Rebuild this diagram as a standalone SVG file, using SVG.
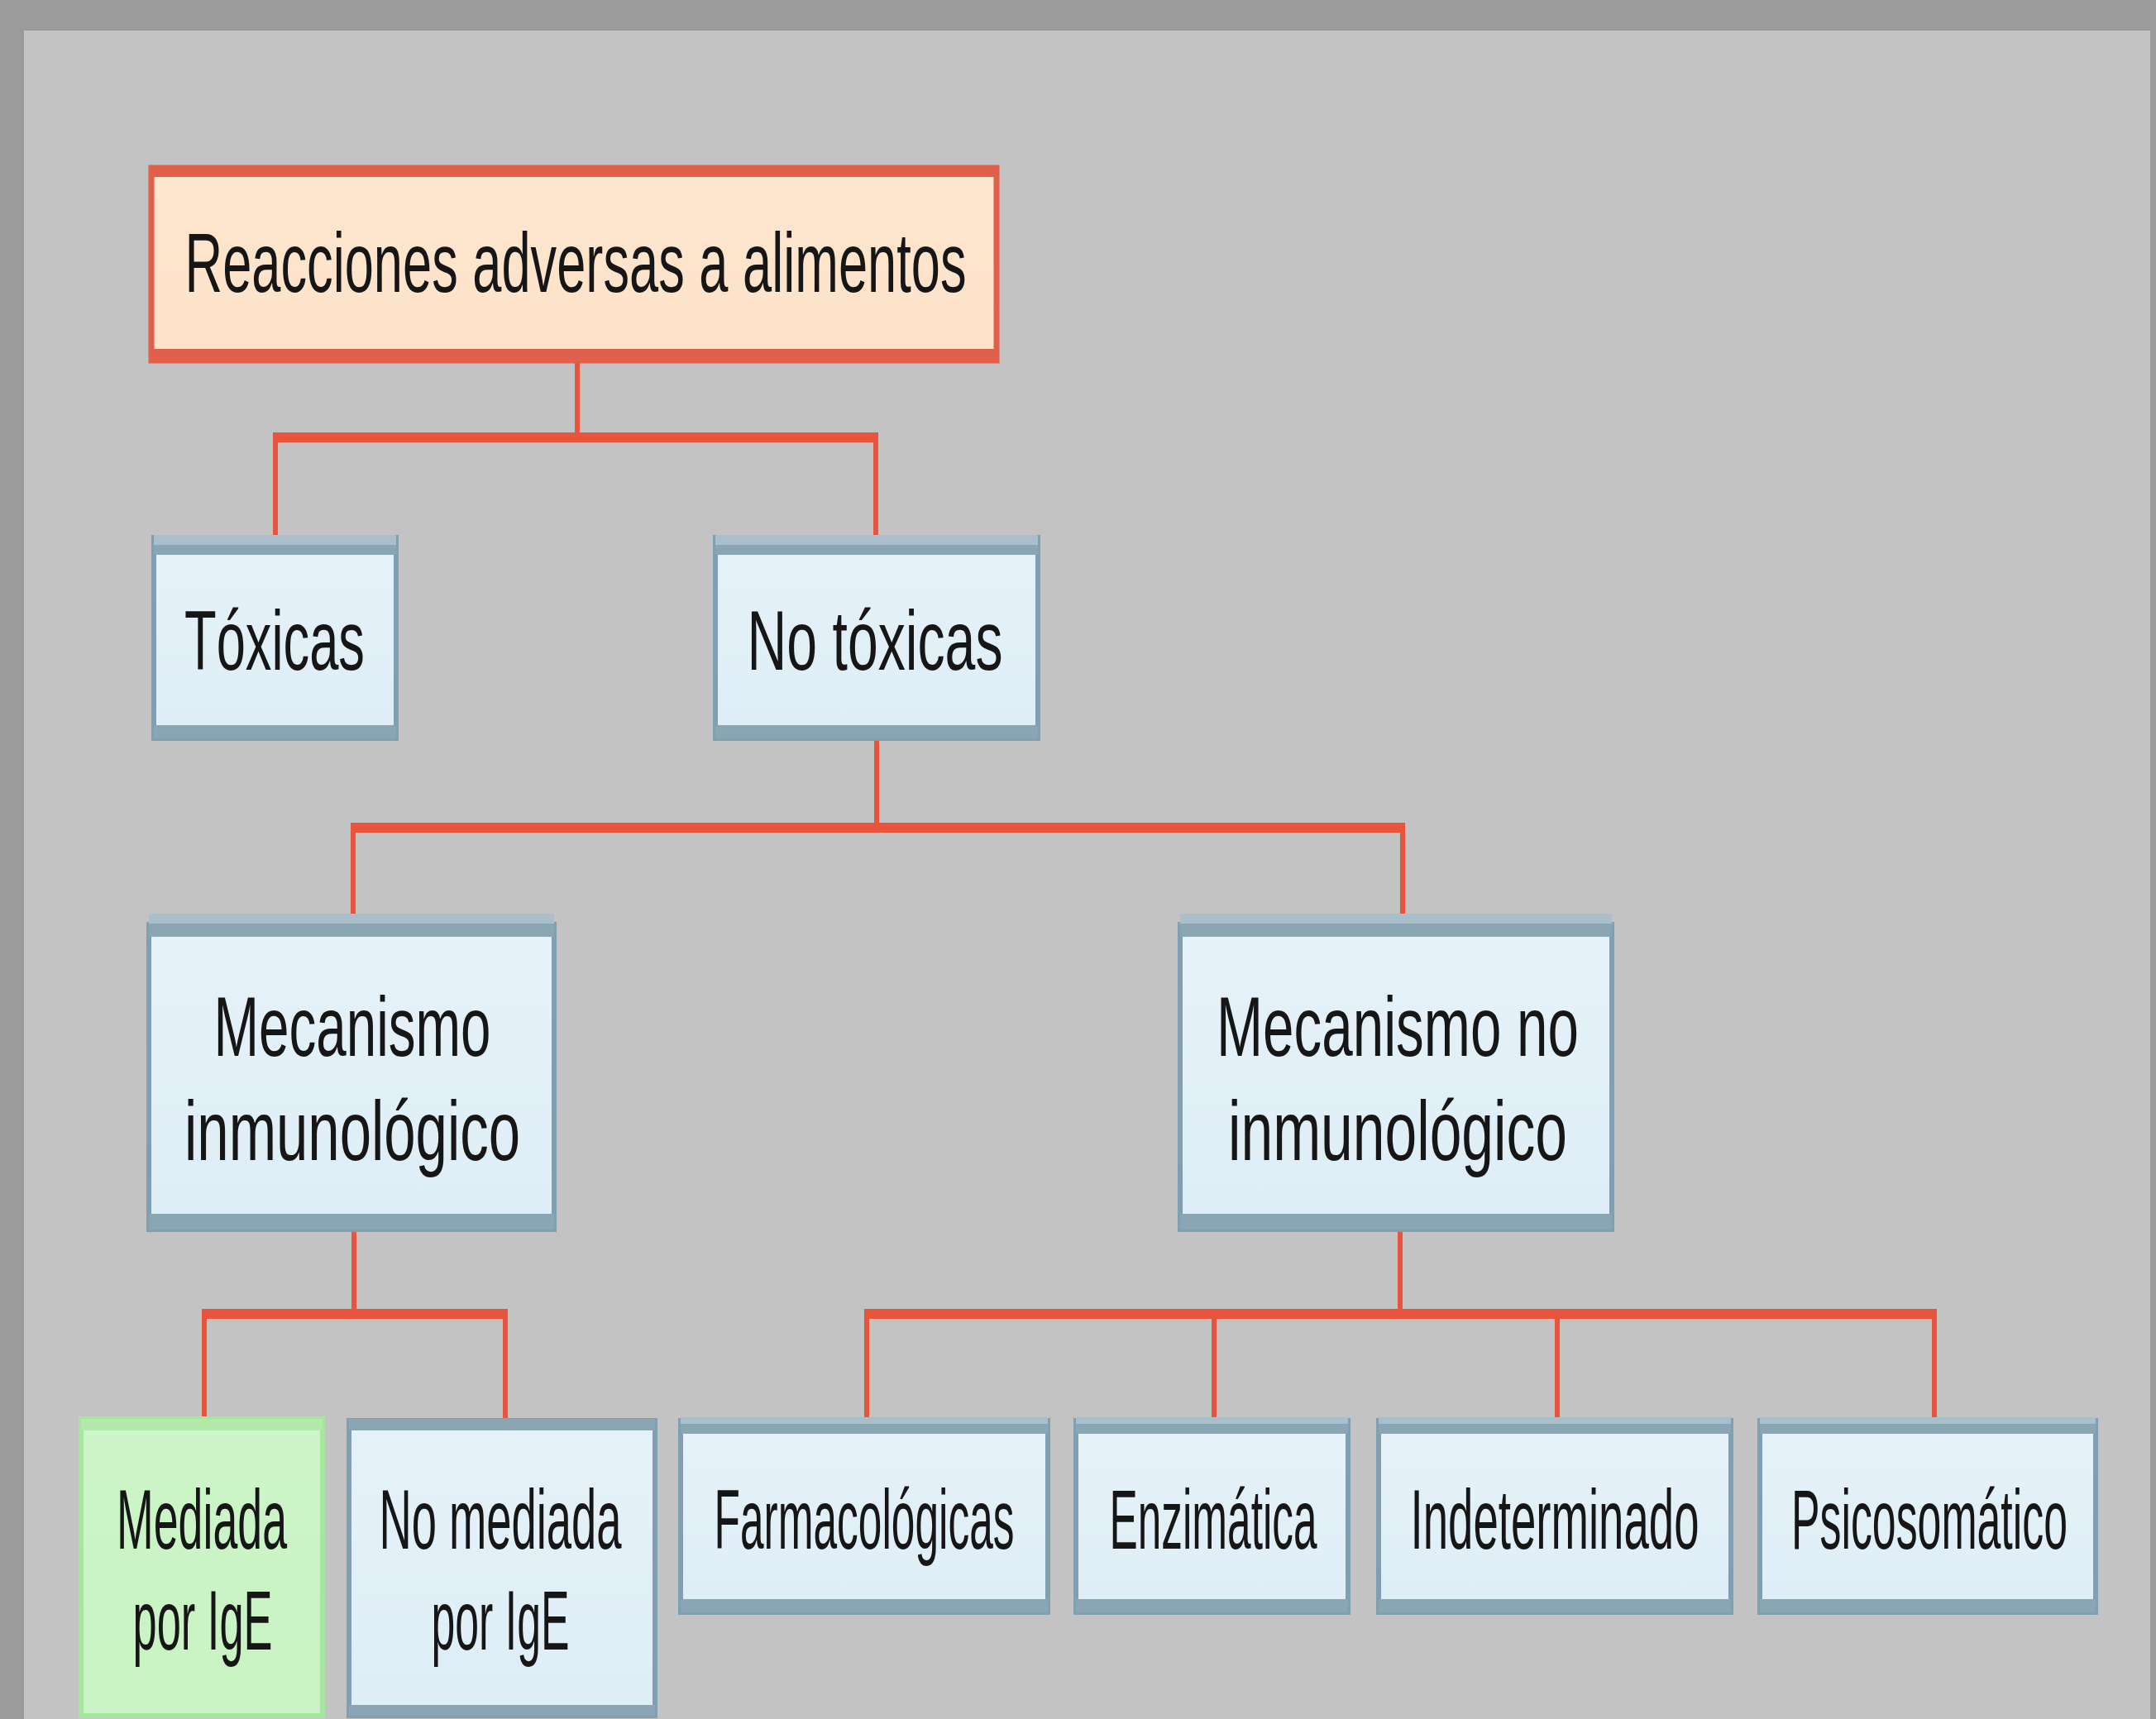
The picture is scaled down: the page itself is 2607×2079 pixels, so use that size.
<svg xmlns="http://www.w3.org/2000/svg" width="2607" height="2079" viewBox="0 0 2607 2079">
<defs>
<linearGradient id="gBlue" x1="0" y1="0" x2="0" y2="1">
<stop offset="0" stop-color="#e6f2f9"/>
<stop offset="1" stop-color="#deedf6"/>
</linearGradient>
<linearGradient id="gPeach" x1="0" y1="0" x2="0" y2="1">
<stop offset="0" stop-color="#fde6cf"/>
<stop offset="1" stop-color="#fde2c8"/>
</linearGradient>
<linearGradient id="gGreen" x1="0" y1="0" x2="0" y2="1">
<stop offset="0" stop-color="#cdf5c9"/>
<stop offset="1" stop-color="#c8f3c2"/>
</linearGradient>
</defs>
<style>
.blue{fill:url(#gBlue);stroke:#7f9fb3;stroke-width:6}
.band{fill:#8aa5b4}
.bandl{fill:#a9c0cc}
.peach{fill:url(#gPeach);stroke:#e0604c;stroke-width:7}
.pband{fill:#e0604c}
.green{fill:url(#gGreen);stroke:#a6e69f;stroke-width:6}
.gband{fill:#b2eaa9}
.t{font-family:"Liberation Sans Narrow","Liberation Sans",Arial,sans-serif;font-size:102px;fill:#161616;text-anchor:middle}
.h{stroke:#e8553c;stroke-width:12;fill:none}
.v{stroke:#e8553c;stroke-width:6;fill:none}
</style>
<rect x="0" y="0" width="2607" height="2079" fill="#9b9b9b"/>
<rect x="29" y="37" width="2571" height="2042" fill="#c3c3c3"/>

<g id="connectors">
<line class="v" x1="698" y1="436" x2="698" y2="529"/>
<line class="h" x1="330" y1="529" x2="1062" y2="529"/>
<line class="v" x1="333" y1="529" x2="333" y2="655"/>
<line class="v" x1="1059" y1="529" x2="1059" y2="655"/>

<line class="v" x1="1060" y1="893" x2="1060" y2="1001"/>
<line class="h" x1="424" y1="1001" x2="1699" y2="1001"/>
<line class="v" x1="427" y1="1001" x2="427" y2="1122"/>
<line class="v" x1="1696" y1="1001" x2="1696" y2="1122"/>

<line class="v" x1="428" y1="1487" x2="428" y2="1589"/>
<line class="h" x1="244" y1="1589" x2="614" y2="1589"/>
<line class="v" x1="247" y1="1589" x2="247" y2="1718"/>
<line class="v" x1="611" y1="1589" x2="611" y2="1718"/>

<line class="v" x1="1693" y1="1487" x2="1693" y2="1589"/>
<line class="h" x1="1045" y1="1589" x2="2342" y2="1589"/>
<line class="v" x1="1048" y1="1589" x2="1048" y2="1718"/>
<line class="v" x1="1468" y1="1589" x2="1468" y2="1718"/>
<line class="v" x1="1883" y1="1589" x2="1883" y2="1718"/>
<line class="v" x1="2339" y1="1589" x2="2339" y2="1718"/>
</g>

<g id="n-reacciones">
<rect class="peach" x="183" y="203" width="1022" height="233"/>
<rect class="pband" x="180" y="200" width="1028" height="14"/>
<rect class="pband" x="180" y="422" width="1028" height="14"/>
<text class="t" x="696" y="353" textLength="945" lengthAdjust="spacingAndGlyphs">Reacciones adversas a alimentos</text>
</g>

<g id="n-toxicas">
<rect class="blue" x="186" y="650" width="293" height="243"/>
<rect class="bandl" x="186" y="647" width="293" height="12"/>
<rect class="band" x="186" y="659" width="293" height="12"/>
<rect class="band" x="186" y="877" width="293" height="16"/>
<text class="t" x="332" y="810" textLength="218" lengthAdjust="spacingAndGlyphs">Tóxicas</text>
</g>

<g id="n-notoxicas">
<rect class="blue" x="865" y="650" width="390" height="243"/>
<rect class="bandl" x="865" y="647" width="390" height="12"/>
<rect class="band" x="865" y="659" width="390" height="12"/>
<rect class="band" x="865" y="877" width="390" height="16"/>
<text class="t" x="1058" y="810" textLength="309" lengthAdjust="spacingAndGlyphs">No tóxicas</text>
</g>

<g id="n-mec-inm">
<rect class="blue" x="180" y="1118" width="490" height="369"/>
<rect class="bandl" x="180" y="1105" width="490" height="12"/>
<rect class="band" x="180" y="1117" width="490" height="16"/>
<rect class="band" x="180" y="1468" width="490" height="19"/>
<text class="t" x="426" y="1277" textLength="335" lengthAdjust="spacingAndGlyphs">Mecanismo</text>
<text class="t" x="426" y="1403" textLength="406" lengthAdjust="spacingAndGlyphs">inmunológico</text>
</g>

<g id="n-mec-noinm">
<rect class="blue" x="1427" y="1118" width="522" height="369"/>
<rect class="bandl" x="1427" y="1105" width="522" height="12"/>
<rect class="band" x="1427" y="1117" width="522" height="16"/>
<rect class="band" x="1427" y="1468" width="522" height="19"/>
<text class="t" x="1690" y="1277" textLength="438" lengthAdjust="spacingAndGlyphs">Mecanismo no</text>
<text class="t" x="1690" y="1403" textLength="410" lengthAdjust="spacingAndGlyphs">inmunológico</text>
</g>

<g id="n-mediada">
<rect class="green" x="98" y="1716" width="292" height="359"/>
<rect class="gband" x="98" y="1716" width="292" height="14"/>
<text class="t" x="244" y="1873" textLength="206" lengthAdjust="spacingAndGlyphs">Mediada</text>
<text class="t" x="245" y="1995" textLength="169" lengthAdjust="spacingAndGlyphs">por IgE</text>
</g>

<g id="n-nomediada">
<rect class="blue" x="422" y="1718" width="370" height="357"/>
<rect class="band" x="422" y="1716" width="370" height="14"/>
<rect class="band" x="422" y="2062" width="370" height="13"/>
<text class="t" x="605" y="1873" textLength="293" lengthAdjust="spacingAndGlyphs">No mediada</text>
<text class="t" x="605" y="1995" textLength="167" lengthAdjust="spacingAndGlyphs">por IgE</text>
</g>

<g id="n-farmacologicas">
<rect class="blue" x="823" y="1718" width="444" height="232"/>
<rect class="bandl" x="823" y="1714" width="444" height="8"/>
<rect class="band" x="823" y="1722" width="444" height="12"/>
<rect class="band" x="823" y="1934" width="444" height="16"/>
<text class="t" x="1045" y="1873" textLength="363" lengthAdjust="spacingAndGlyphs">Farmacológicas</text>
</g>

<g id="n-enzimatica">
<rect class="blue" x="1301" y="1718" width="329" height="232"/>
<rect class="bandl" x="1301" y="1714" width="329" height="8"/>
<rect class="band" x="1301" y="1722" width="329" height="12"/>
<rect class="band" x="1301" y="1934" width="329" height="16"/>
<text class="t" x="1467" y="1873" textLength="251" lengthAdjust="spacingAndGlyphs">Enzimática</text>
</g>

<g id="n-indeterminado">
<rect class="blue" x="1667" y="1718" width="426" height="232"/>
<rect class="bandl" x="1667" y="1714" width="426" height="8"/>
<rect class="band" x="1667" y="1722" width="426" height="12"/>
<rect class="band" x="1667" y="1934" width="426" height="16"/>
<text class="t" x="1880" y="1873" textLength="349" lengthAdjust="spacingAndGlyphs">Indeterminado</text>
</g>

<g id="n-psicosomatico">
<rect class="blue" x="2128" y="1718" width="406" height="232"/>
<rect class="bandl" x="2128" y="1714" width="406" height="8"/>
<rect class="band" x="2128" y="1722" width="406" height="12"/>
<rect class="band" x="2128" y="1934" width="406" height="16"/>
<text class="t" x="2333" y="1873" textLength="334" lengthAdjust="spacingAndGlyphs">Psicosomático</text>
</g>
</svg>
